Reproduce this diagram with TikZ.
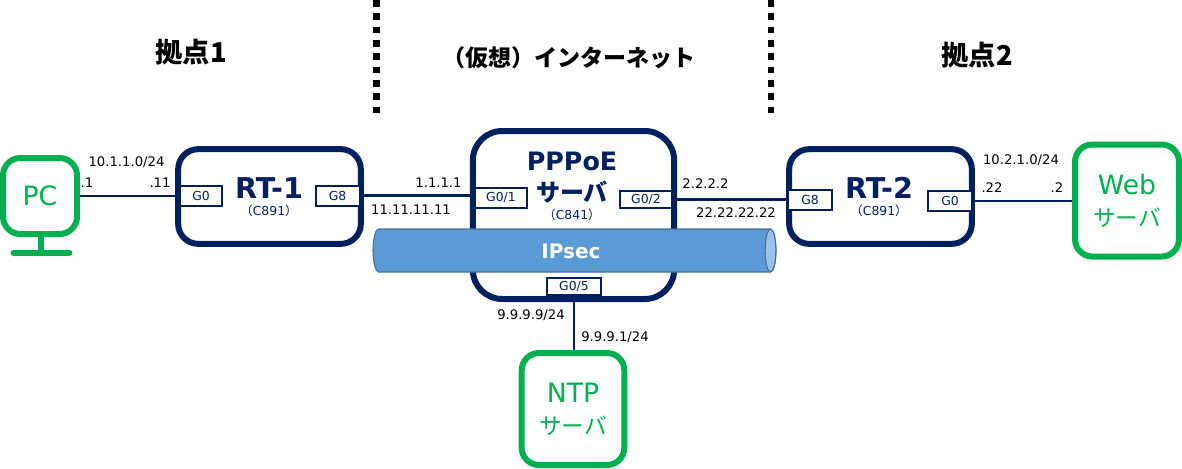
\documentclass[tikz,border=0pt]{standalone}
\usepackage{fontspec}
\setmainfont{DejaVu Sans}
\newfontfamily\cjk{Noto Sans CJK JP}
\usetikzlibrary{positioning}
\definecolor{navy}{HTML}{002060}
\definecolor{lime}{HTML}{00B050}
\definecolor{tube}{HTML}{5B9BD5}
\definecolor{tubeend}{HTML}{9DC3E6}
\definecolor{tubeline}{HTML}{41719C}
\tikzset{
  router/.style={draw=navy,line width=4.5pt,rounded corners=15pt,fill=white,inner sep=0pt},
  host/.style={draw=lime,line width=4.5pt,rounded corners=13pt,fill=white,inner sep=0pt,
    text=lime,align=center,font=\fontsize{20}{25}\selectfont},
  port/.style={draw=navy,line width=1.5pt,fill=white,inner sep=0pt,text=navy,
    font=\fontsize{9.3}{10}\selectfont},
  link/.style={draw=navy,line width=2pt},
  addr/.style={inner sep=0pt,font=\fontsize{9.9}{10}\selectfont},
  rtname/.style={inner sep=0pt,text=navy,font=\fontsize{21.5}{24}\bfseries\selectfont},
  model/.style={inner sep=0pt,text=navy,font=\fontsize{9.3}{10}\selectfont},
  area/.style={inner sep=0pt,font=\fontsize{20.5}{24}\cjk\bfseries\selectfont},
  border/.style={draw=black,line width=5pt,dash pattern=on 5pt off 5pt}
}
\newcommand{\srv}{{\cjk\fontsize{17}{25}\selectfont サーバ}}
\begin{document}
\begin{tikzpicture}[x=.75pt,y=-.75pt]
  \useasboundingbox (0,0) rectangle (1182,468);

  % areas
  \node[area] (site1) at (191,52) {拠点1};
  \node[area,font=\fontsize{17.3}{20}\cjk\bfseries\selectfont] (inet) at (569,58) {（仮想）インターネット};
  \node[area] (site2) at (977,55) {拠点2};
  \coordinate (bl1) at (376.5,0);
  \coordinate (bl2) at (376.5,115);
  \coordinate (br1) at (771,0);
  \coordinate (br2) at (771,115);
  \draw[border] (bl1) -- (bl2);
  \draw[border] (br1) -- (br2);

  % boxes
  \node[host,minimum width=55.5pt,minimum height=57pt] (pc) at (40,196) {\raisebox{-1.5pt}{PC}};
  \node[router,minimum width=137pt,minimum height=71pt] (rt1) at (269.5,196.5) {};
  \node[router,rounded corners=22pt,minimum width=151pt,minimum height=126pt] (pppoe) at (573.5,215) {};
  \node[router,minimum width=137pt,minimum height=71pt] (rt2) at (880.5,196.5) {};
  \node[host,minimum width=78pt,minimum height=84pt] (web) at (1127,200.5) {Web\\[-1pt]\srv};
  \node[host,minimum width=77pt,minimum height=84pt] (ntp) at (573,409) {NTP\\[-1pt]\srv};

  % PC stand
  \coordinate (stand1) at (41,237);
  \coordinate (stand2) at (41,253);
  \coordinate (base1) at (13.5,253);
  \coordinate (base2) at (69.5,253);
  \draw[draw=lime,line width=4.5pt] (stand1) -- (stand2);
  \draw[draw=lime,line width=4.5pt,line cap=round] (base1) -- (base2);

  % ports
  \node[port,minimum width=31.5pt,minimum height=15pt] (r1g0) at (201,195.5) {G0};
  \node[port,minimum width=33pt,minimum height=15pt] (r1g8) at (337.5,195.5) {G8};
  \node[port,minimum width=39pt,minimum height=15pt] (ppg1) at (501,197.5) {G0/1};
  \node[port,minimum width=39pt,minimum height=12.5pt] (ppg2) at (646,199.5) {G0/2};
  \node[port,minimum width=40pt,minimum height=12.5pt] (ppg5) at (574,286.5) {G0/5};
  \node[port,minimum width=33pt,minimum height=15pt] (r2g8) at (810,199.5) {G8};
  \node[port,minimum width=33pt,minimum height=15pt] (r2g0) at (950,201) {G0};

  % links
  \draw[link] (pc) -- (pc -| rt1.west);
  \draw[link] (rt1.east |- r1g8) -- (r1g8 -| pppoe.west);
  \draw[link] (pppoe.east |- ppg2) -- (ppg2 -| rt2.west);
  \draw[link] (rt2.east |- r2g0) -- (r2g0 -| web.west);
  \draw[link] (ppg5 |- pppoe.south) -- (ppg5 |- ntp.north);

  % tunnel
  \draw[draw=tubeline,fill=tube,line width=.8pt] (378.5,229) -- (770.5,229)
    .. controls (773.5,229) and (776,239) .. (776,250.5)
    .. controls (776,262) and (773.5,272) .. (770.5,272) -- (378.5,272)
    .. controls (375.5,272) and (373,262) .. (373,250.5)
    .. controls (373,239) and (375.5,229) .. (378.5,229) -- cycle;
  \draw[draw=tubeline,fill=tubeend,line width=.8pt] (770.5,250.5) ellipse [x radius=4pt,y radius=16.1pt];
  \node[inner sep=0pt,text=white,font=\fontsize{15}{18}\bfseries\selectfont] (ipsec) at (571,251) {IPsec};

  % box titles
  \node[rtname] (r1name) at (269,188) {RT-1};
  \node[model] (r1model) at (269,211) {{\cjk（}C891{\cjk）}};
  \node[rtname,font=\fontsize{19}{24}\bfseries\selectfont] (ppname) at (572,161) {PPPoE};
  \node[rtname,font=\fontsize{18}{24}\cjk\bfseries\selectfont] (ppname2) at (572,192) {サーバ};
  \node[model] (ppmodel) at (572,215) {{\cjk（}C841{\cjk）}};
  \node[rtname] (r2name) at (879,188) {RT-2};
  \node[model] (r2model) at (879,211) {{\cjk（}C891{\cjk）}};

  % addresses
  \node[addr] (a1) at (126.5,162) {10.1.1.0/24};
  \node[addr] (a2) at (87,183) {.1};
  \node[addr] (a3) at (160,183) {.11};
  \node[addr] (a4) at (438.5,183) {1.1.1.1};
  \node[addr] (a5) at (411,209.5) {11.11.11.11};
  \node[addr] (a6) at (705.5,184) {2.2.2.2};
  \node[addr] (a7) at (736,212.5) {22.22.22.22};
  \node[addr] (a8) at (531,315) {9.9.9.9/24};
  \node[addr] (a9) at (615,337) {9.9.9.1/24};
  \node[addr] (a10) at (1021,160.5) {10.2.1.0/24};
  \node[addr] (a11) at (992,187.5) {.22};
  \node[addr] (a12) at (1057,187.5) {.2};
\end{tikzpicture}
\end{document}
